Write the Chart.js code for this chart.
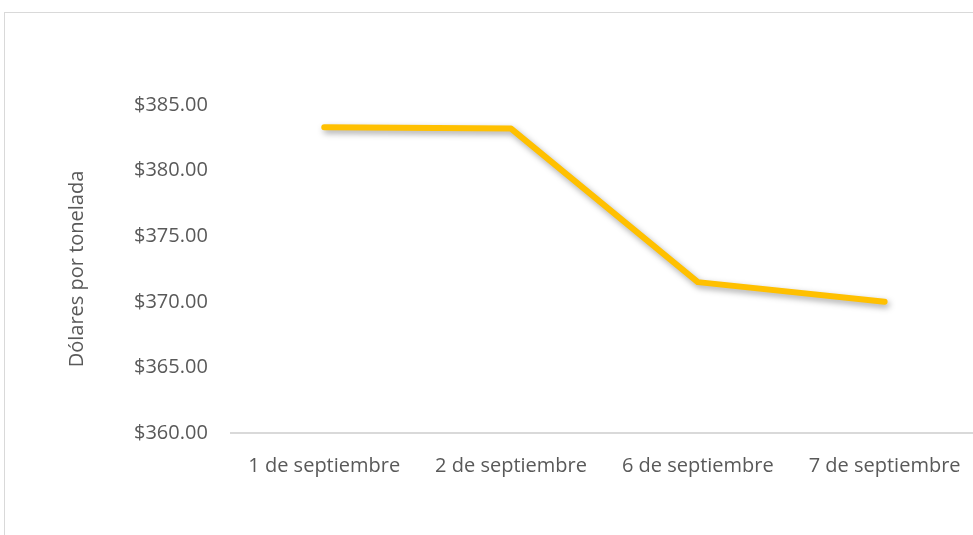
<!DOCTYPE html>
<html>
<head>
<meta charset="utf-8">
<script src="https://cdn.jsdelivr.net/npm/chart.js@4"></script>
<style>
  html, body { margin: 0; padding: 0; background: #fff; overflow: hidden; }
  #frame {
    position: absolute; left: 4px; top: 12px; width: 1100px; height: 600px;
    border: 1px solid #d9d9d9; box-sizing: border-box;
  }
  #wrap { position: absolute; left: 0; top: 0; width: 990px; height: 535px; }
</style>
</head>
<body>
<div id="frame"></div>
<div id="wrap"><canvas id="chart"></canvas></div>
<script>
// Precio (dólares por tonelada)
const labels = ['1 de septiembre', '2 de septiembre', '6 de septiembre', '7 de septiembre'];
const prices = [383.3, 383.2, 371.5, 370.0];
const yMin = 360, yMax = 385, yStep = 5;

const TEXT = '#595959';
const FONT = 'Open Sans';
const SIZE = 20;

// soft drop shadow under the line, like the original
const lineShadow = {
  id: 'lineShadow',
  beforeDatasetDraw(chart) {
    const c = chart.ctx;
    c.save();
    c.shadowColor = 'rgba(0,0,0,0.35)';
    c.shadowBlur = 6;
    c.shadowOffsetX = 2;
    c.shadowOffsetY = 3;
  },
  afterDatasetDraw(chart) {
    chart.ctx.restore();
  }
};

new Chart(document.getElementById('chart'), {
  type: 'line',
  data: {
    labels,
    datasets: [{
      data: prices,
      borderColor: '#ffc000',
      borderWidth: 6,
      borderCapStyle: 'round',
      borderJoinStyle: 'round',
      pointRadius: 0,
      tension: 0,
      fill: false,
    }]
  },
  options: {
    responsive: true,
    maintainAspectRatio: false,
    animation: false,
    layout: { padding: { left: 65, top: 105, right: 12, bottom: 36 } },
    plugins: {
      legend: { display: false },
      tooltip: { enabled: false }
    },
    scales: {
      x: {
        offset: true,
        grid: { display: false, drawTicks: false },
        border: { display: true, color: '#d9d9d9', width: 2 },
        ticks: { color: TEXT, font: { family: FONT, size: SIZE }, padding: 21, maxRotation: 0, autoSkip: false }
      },
      y: {
        min: yMin,
        max: yMax,
        grid: { display: false, drawTicks: false },
        border: { display: false },
        ticks: {
          stepSize: yStep,
          color: TEXT,
          font: { family: FONT, size: SIZE },
          padding: 23,
          callback: v => '$' + v.toFixed(2)
        },
        title: {
          display: true,
          text: 'Dólares por tonelada',
          color: TEXT,
          font: { family: FONT, size: SIZE },
          padding: { top: 0, bottom: 22 }
        }
      }
    }
  },
  plugins: [lineShadow]
});
</script>
</body>
</html>
